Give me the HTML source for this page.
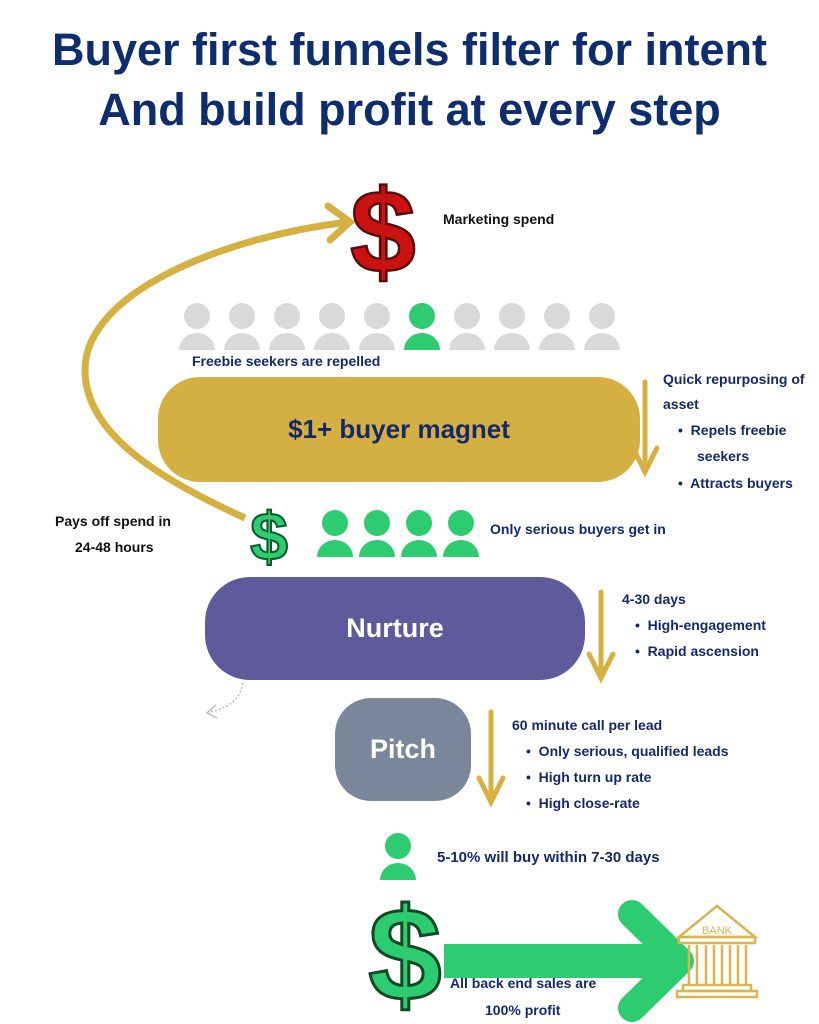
<!DOCTYPE html>
<html><head><meta charset="utf-8"><style>
html,body{margin:0;padding:0;background:#fff;}
body{width:819px;height:1024px;position:relative;overflow:hidden;font-family:"Liberation Sans Narrow","Liberation Sans",sans-serif;}
.t{position:absolute;white-space:nowrap;}
.h{left:0;width:819px;text-align:center;font-family:"Liberation Sans",sans-serif;font-weight:bold;font-size:45px;color:#0e2d6e;}
.n{color:#13296b;font-weight:bold;font-size:14px;}
.k{color:#111;font-weight:bold;font-size:14px;}
.box{position:absolute;display:flex;align-items:center;justify-content:center;font-weight:bold;}
</style></head><body>
<div class="t h" style="top:24px">Buyer first funnels filter for intent</div>
<div class="t h" style="top:84px">And build profit at every step</div>

<svg width="819" height="1024" style="position:absolute;left:0;top:0">
 <path d="M245,518 C150,475 85,430 85,370 C85,290 230,236 348,222" fill="none" stroke="#d6b040" stroke-width="7"/>
 <path d="M328,206 L350,222 L330,240" fill="none" stroke="#d6b040" stroke-width="7" stroke-linecap="round"/>
 <text x="383" y="272" text-anchor="middle" font-family="Liberation Sans" font-weight="bold" font-size="118" fill="#cc1111" stroke="#5a0a0a" stroke-width="2.5">$</text>
 <g stroke="#d6b040" stroke-width="5" fill="none" stroke-linecap="round">
  <path d="M645,382 L645,470 M633,448 L645,472 L657,448"/>
  <path d="M601,592 L601,676 M589,654 L601,678 L613,654"/>
  <path d="M491,712 L491,800 M479,778 L491,802 L503,778"/>
 </g>
 <text x="269" y="560" text-anchor="middle" font-family="Liberation Sans" font-weight="bold" font-size="68" fill="#2ecc71" stroke="#0b5a2c" stroke-width="2">$</text>
 <path d="M243,683 C240,700 228,708 210,712" fill="none" stroke="#bbb" stroke-width="1.5" stroke-dasharray="2,2"/>
 <path d="M216,705 L207,713 L217,718" fill="none" stroke="#bbb" stroke-width="1.5"/>
 <rect x="444" y="944" width="230" height="34" fill="#2ecc71"/>
 <path d="M632,914 L680,961 L632,1008" fill="none" stroke="#2ecc71" stroke-width="28" stroke-linecap="round" stroke-linejoin="round"/>
 <text x="405" y="1000" text-anchor="middle" font-family="Liberation Sans" font-weight="bold" font-size="132" fill="#2ecc71" stroke="#0b4a24" stroke-width="3">$</text>
 <g stroke="#d9b550" stroke-width="2.5" fill="none">
  <path d="M679,937 L717,906 L755,937 Z"/>
  <rect x="679" y="937" width="76" height="6"/>
  <path d="M689,945 V985 M697,945 V985 M706,945 V985 M714,945 V985 M722,945 V985 M730,945 V985 M738,945 V985 M746,945 V985"/>
  <rect x="683" y="985" width="68" height="6"/>
  <rect x="677" y="991" width="80" height="6"/>
 </g>
 <text x="717" y="934" text-anchor="middle" font-family="Liberation Sans" font-size="11" fill="#d9b550">BANK</text>
</svg>

<div class="t k" style="left:443px;top:211px">Marketing spend</div>
<div class="t n" style="left:192px;top:353px">Freebie seekers are repelled</div>
<div class="box" style="left:158px;top:377px;width:482px;height:105px;border-radius:42px;background:#d4af42;color:#13296b;font-size:26px">$1+ buyer magnet</div>
<div class="t n" style="left:663px;top:371px">Quick repurposing of</div>
<div class="t n" style="left:663px;top:396px">asset</div>
<div class="t n" style="left:678px;top:422px">•&nbsp; Repels freebie</div>
<div class="t n" style="left:697px;top:448px">seekers</div>
<div class="t n" style="left:678px;top:475px">•&nbsp; Attracts buyers</div>
<div class="t k" style="left:55px;top:513px">Pays off spend in</div>
<div class="t k" style="left:75px;top:539px">24-48 hours</div>
<div class="t n" style="left:490px;top:521px">Only serious buyers get in</div>
<div class="box" style="left:205px;top:577px;width:380px;height:103px;border-radius:45px;background:#5e5a9c;color:#fff;font-size:27px">Nurture</div>
<div class="t n" style="left:622px;top:591px">4-30 days</div>
<div class="t n" style="left:635px;top:617px">•&nbsp; High-engagement</div>
<div class="t n" style="left:635px;top:643px">•&nbsp; Rapid ascension</div>
<div class="box" style="left:335px;top:698px;width:136px;height:103px;border-radius:36px;background:#7a8699;color:#fff;font-size:27px">Pitch</div>
<div class="t n" style="left:512px;top:717px">60 minute call per lead</div>
<div class="t n" style="left:526px;top:743px">•&nbsp; Only serious, qualified leads</div>
<div class="t n" style="left:526px;top:769px">•&nbsp; High turn up rate</div>
<div class="t n" style="left:526px;top:795px">•&nbsp; High close-rate</div>
<div class="t n" style="left:437px;top:849px;font-size:15px">5-10% will buy within 7-30 days</div>
<div class="t n" style="left:450px;top:975px">All back end sales are</div>
<div class="t n" style="left:485px;top:1002px">100% profit</div>

<svg width="819" height="1024" style="position:absolute;left:0;top:0">
 <defs>
  <g id="pg"><circle cx="0" cy="-16" r="13"/><path d="M-18,18 A18,17 0 0 1 18,18 Z"/></g>
 </defs>
 <g fill="#d9d9d9">
  <use href="#pg" x="197" y="332"/><use href="#pg" x="242" y="332"/><use href="#pg" x="287" y="332"/>
  <use href="#pg" x="332" y="332"/><use href="#pg" x="377" y="332"/>
  <use href="#pg" x="467" y="332"/><use href="#pg" x="512" y="332"/><use href="#pg" x="557" y="332"/><use href="#pg" x="602" y="332"/>
 </g>
 <g fill="#2ecc71">
  <use href="#pg" x="422" y="332"/>
  <use href="#pg" x="335" y="539"/><use href="#pg" x="377" y="539"/><use href="#pg" x="419" y="539"/><use href="#pg" x="461" y="539"/>
  <use href="#pg" x="398" y="862"/>
 </g>
</svg>
</body></html>
